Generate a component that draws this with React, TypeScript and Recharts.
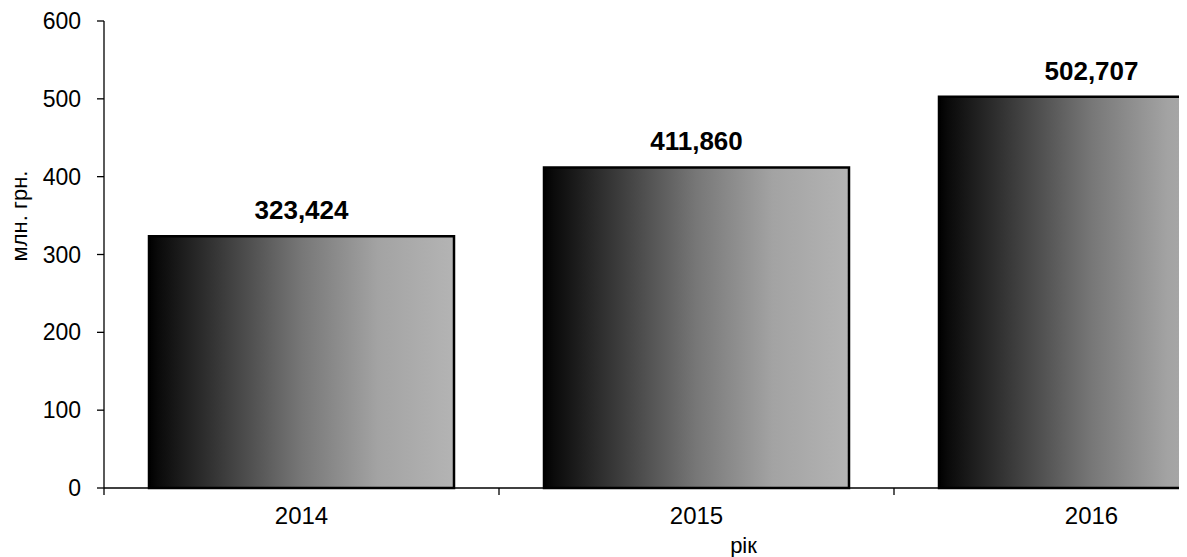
import React from "react";
import { BarChart, Bar, XAxis, YAxis, LabelList } from "recharts";

const years = ["2014", "2015", "2016"];
const amounts = [323.424, 411.86, 502.707];
const yTicks = [0, 100, 200, 300, 400, 500, 600];

const data = years.map((year, i) => ({ year, value: amounts[i] }));

const WIDTH = 1290;
const HEIGHT = 549;
const MARGIN = { top: 13, right: 9, bottom: 9, left: 0 };
const Y_WIDTH = 96;
const BAND = (WIDTH - MARGIN.left - MARGIN.right - Y_WIDTH) / years.length;
const FONT = "'Liberation Sans', Arial, sans-serif";

const fmt = (v: any) => Number(v).toFixed(3).replace(".", ",");

const YearTick = (props: any) => {
  const { x, y, payload, index } = props;
  const left = x - BAND / 2;
  const right = x + BAND / 2;
  return (
    <g>
      <line x1={left} y1={y - 8} x2={left} y2={y - 1} stroke="#000" strokeWidth={1.3} />
      {index === years.length - 1 && (
        <line x1={right} y1={y - 8} x2={right} y2={y - 1} stroke="#000" strokeWidth={1.3} />
      )}
      <text x={x} y={y + 28} textAnchor="middle" fontSize={24} fill="#000" fontFamily={FONT}>
        {payload.value}
      </text>
    </g>
  );
};

export default function App() {
  return (
    <div style={{ width: 1173, height: HEIGHT, overflow: "hidden", fontFamily: FONT }}>
      <BarChart width={WIDTH} height={HEIGHT} data={data} margin={MARGIN} barSize={305}>
        <defs>
          <linearGradient id="barFill" x1="0" y1="0" x2="1" y2="0">
            <stop offset="0" stopColor="#000000" />
            <stop offset="0.03" stopColor="#0a0a0a" />
            <stop offset="0.5" stopColor="#777777" />
            <stop offset="0.75" stopColor="#a3a3a3" />
            <stop offset="1" stopColor="#b4b4b4" />
          </linearGradient>
        </defs>
        <XAxis
          dataKey="year"
          axisLine={{ stroke: "#000", strokeWidth: 1.3 }}
          tickLine={false}
          tick={<YearTick />}
          height={60}
          interval={0}
          label={(p: any) => {
            const vb = p.viewBox;
            return (
              <text x={vb.x + vb.width / 2 + 47} y={vb.y + 65} textAnchor="middle" fontSize={22} fill="#000" fontFamily={FONT}>
                рік
              </text>
            );
          }}
        />
        <YAxis
          width={Y_WIDTH}
          domain={[0, 600]}
          ticks={yTicks}
          interval={0}
          tickSize={7}
          tickMargin={16}
          axisLine={{ stroke: "#000", strokeWidth: 1.3 }}
          tickLine={{ stroke: "#000", strokeWidth: 1.3 }}
          tick={{ fontSize: 23, fill: "#000", fontFamily: FONT }}
          label={(p: any) => {
            const vb = p.viewBox;
            const cx = 19;
            const cy = vb.y + 195;
            return (
              <text x={cx} y={cy} transform={`rotate(-90 ${cx} ${cy})`} textAnchor="middle" fontSize={22} fill="#000" fontFamily={FONT}>
                млн. грн.
              </text>
            );
          }}
        />
        <Bar dataKey="value" fill="url(#barFill)" stroke="#000" strokeWidth={2.5} isAnimationActive={false}>
          <LabelList
            dataKey="value"
            position="top"
            offset={17}
            formatter={fmt}
            style={{ fontSize: 26, fontWeight: "bold", fill: "#000", fontFamily: FONT }}
          />
        </Bar>
      </BarChart>
    </div>
  );
}
